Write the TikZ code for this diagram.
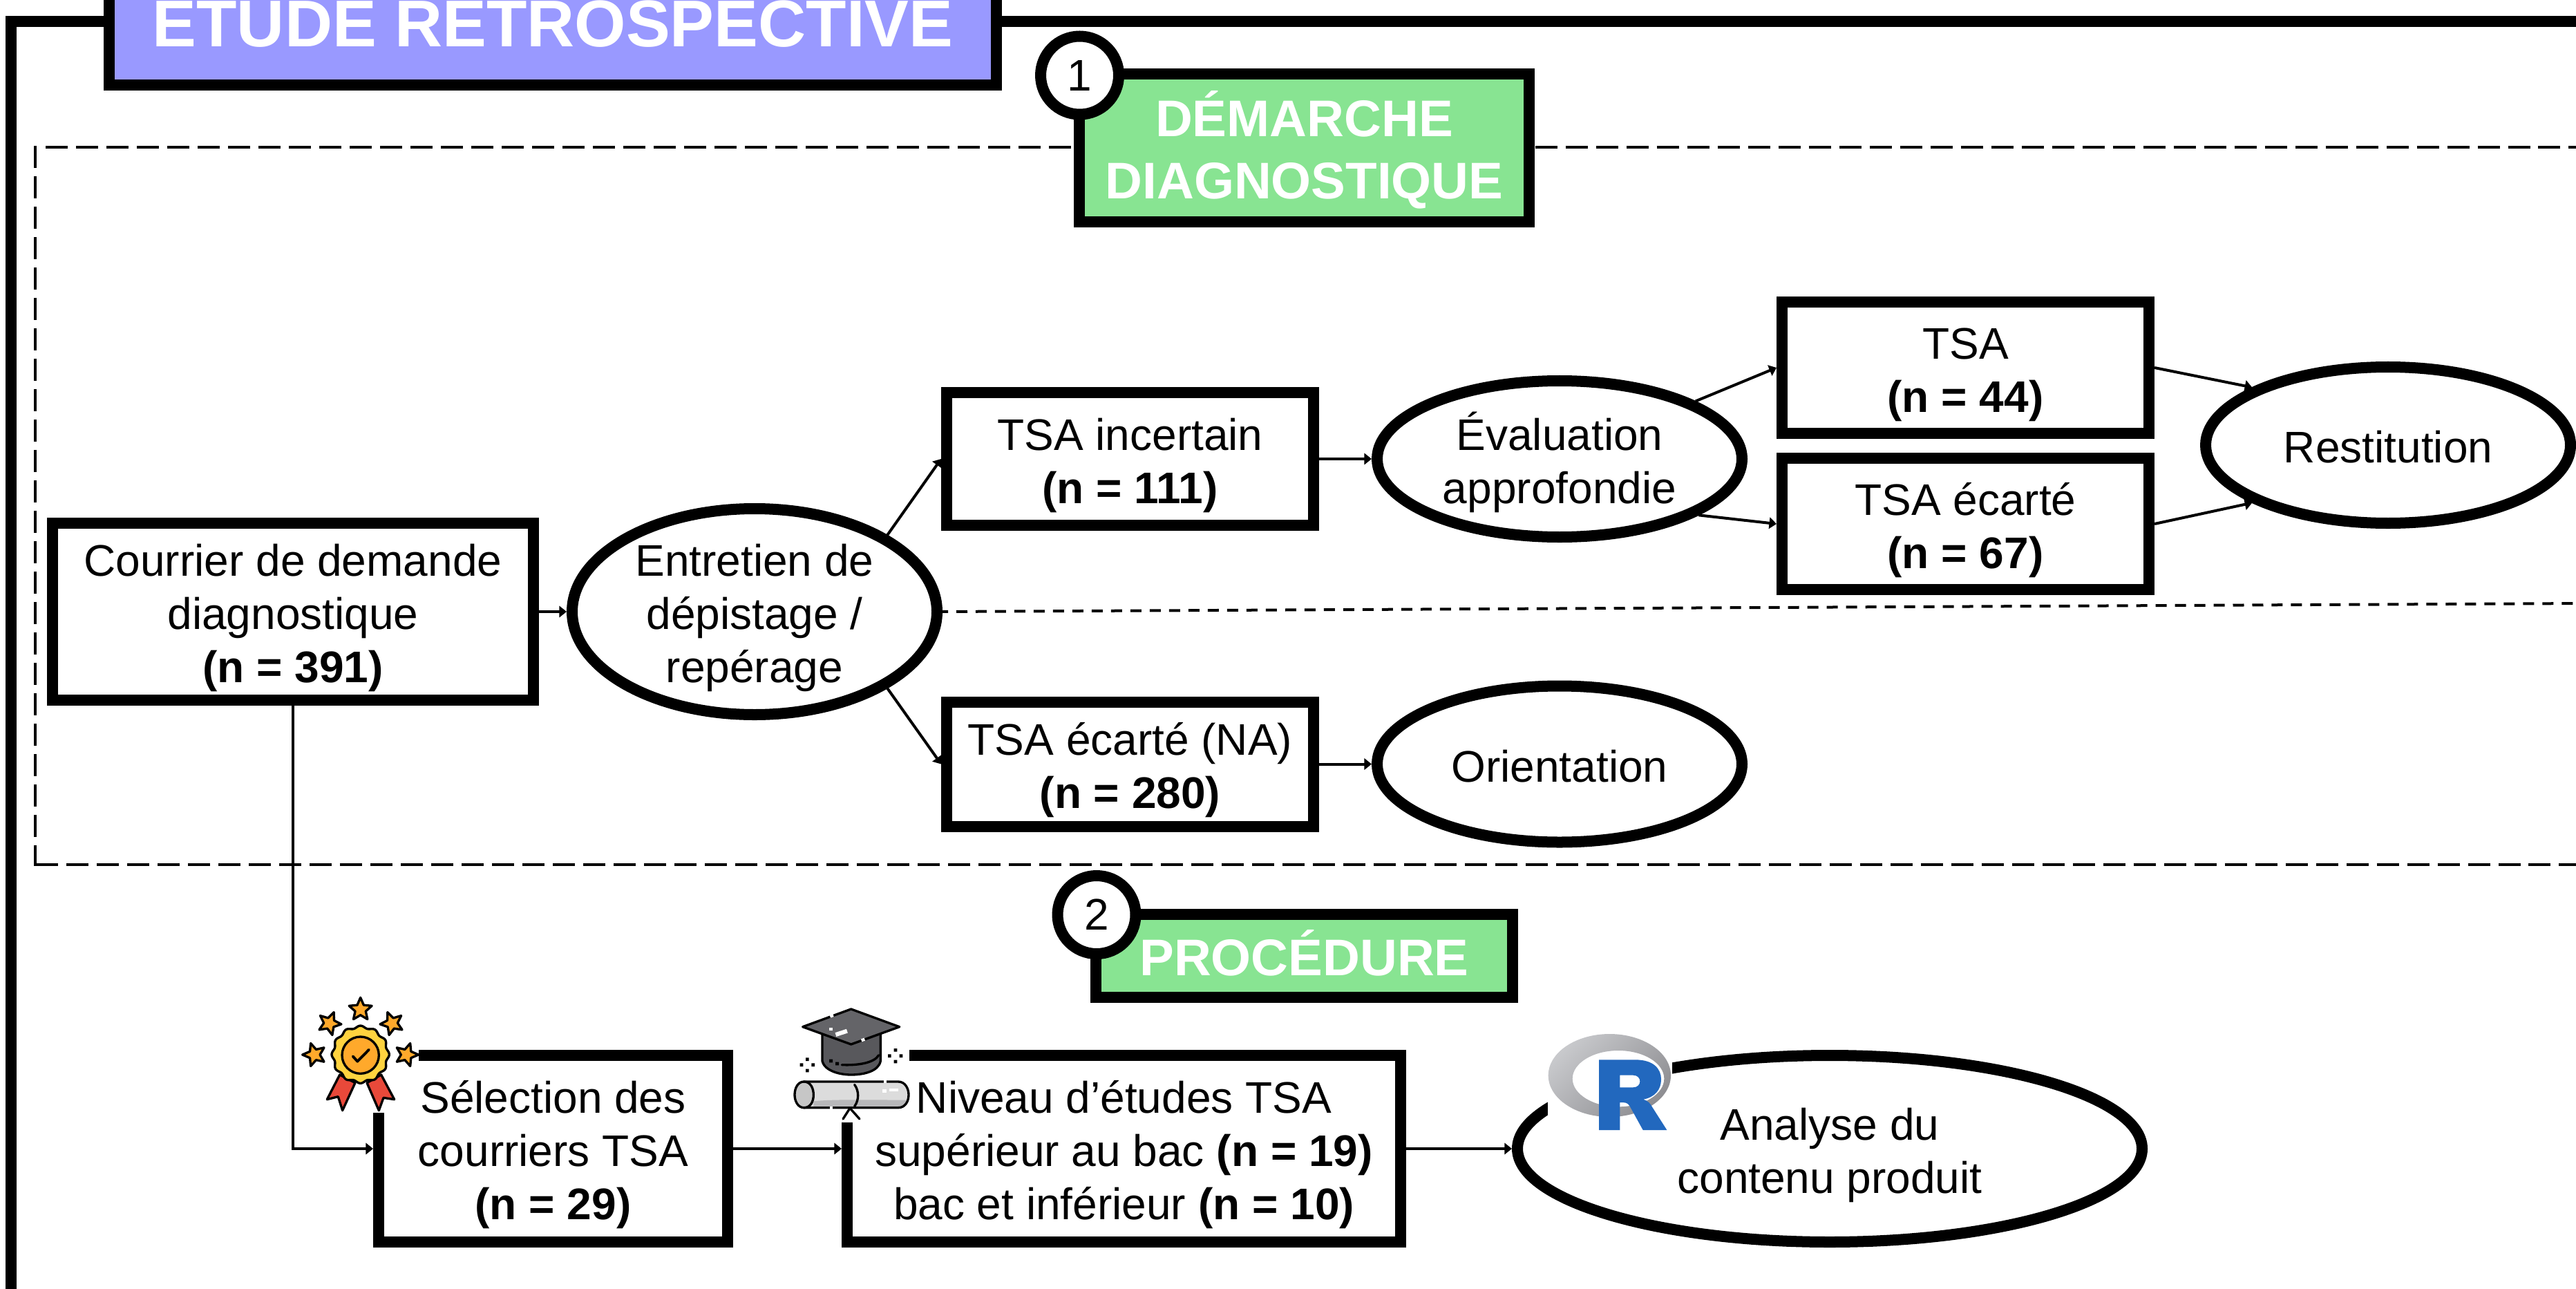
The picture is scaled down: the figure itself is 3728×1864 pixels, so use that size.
\documentclass[tikz,border=0pt]{standalone}
\usepackage{fontspec}
\setmainfont{Liberation Sans}
\usetikzlibrary{arrows.meta,shapes.geometric,calc}
\definecolor{titleblue}{HTML}{9999FF}
\definecolor{headgreen}{HTML}{88E492}
\definecolor{medalgold}{HTML}{FFD33F}
\definecolor{medalorange}{HTML}{FFA92B}
\definecolor{medalred}{HTML}{E8493A}
\definecolor{capdark}{HTML}{58585C}
\definecolor{capboard}{HTML}{646468}
\definecolor{scrollgrey}{HTML}{DCDCDC}
\definecolor{scrollshade}{HTML}{B8B8BA}
\definecolor{rblue}{HTML}{2268BE}
\definecolor{ringlight}{HTML}{C8C9CC}
\definecolor{ringdark}{HTML}{8E8E92}
\newcommand{\medalstar}[3]{\draw[fill=medalorange,line width=0.95pt,line join=round]
  plot[samples at={0,36,...,324}] ({#1+(mod(\x,72)==0?52:24)*sin(\x+#3)},{#2-(mod(\x,72)==0?52:24)*cos(\x+#3)}) -- cycle;}
% line struts: same text block height whatever the letters
\newcommand{\btop}{\rule{0pt}{18.5pt}}
\newcommand{\bbot}{\rule[-3.9pt]{0pt}{3.9pt}}
\newcommand{\htop}{\rule{0pt}{21.2pt}}
\newcommand{\hbot}{\rule[-5.2pt]{0pt}{5.2pt}}
\newcommand{\ttop}{\rule{0pt}{34pt}}
\newcommand{\tbot}{\rule[-5.6pt]{0pt}{5.6pt}}
\tikzset{
  sized/.style 2 args={minimum width=#1*0.01cm,minimum height=#2*0.01cm},
  bodyfont/.style={font=\fontsize{18.2}{21.9}\selectfont,align=center,text=black},
  stepbox/.style={draw=black,fill=white,line width=4.552pt,rectangle,inner sep=0pt,bodyfont},
  stepoval/.style={draw=black,fill=white,line width=4.552pt,ellipse,inner sep=-40pt,bodyfont},
  headbox/.style={draw=black,fill=headgreen,line width=4.552pt,rectangle,inner sep=0pt,align=center,text=white,font=\fontsize{21.2}{25.6}\selectfont\bfseries},
  titlebox/.style={draw=black,fill=titleblue,line width=4.552pt,rectangle,inner sep=0pt,align=center,text=white,font=\fontsize{27.2}{32}\selectfont\bfseries},
  numdisc/.style={draw=black,fill=white,line width=4.552pt,circle,inner sep=0pt,minimum size=113*0.01cm,font=\fontsize{18.2}{21.9}\selectfont},
  framestroke/.style={draw=black,line width=4.552pt,line cap=butt},
  zonedash/.style={draw=black,line width=1.138pt,dash pattern=on 9.1pt off 3.41pt},
  splitdash/.style={draw=black,line width=1.138pt,dash pattern=on 4.55pt off 3.41pt,dash phase=2.28pt},
  link/.style={draw=black,line width=1.138pt,-{Triangle[length=3pt,width=4.6pt]}},
  iconstroke/.style={draw=black,line width=0.95pt,line join=round,line cap=round},
}
\begin{document}
\begin{tikzpicture}[x=0.01cm,y=-0.01cm]
\useasboundingbox (0,0) rectangle (3728,1864);
\clip (0,0) rectangle (3728,1864);
% outer frame and zones
\coordinate (frameA) at (16,1950);
\coordinate (frameB) at (16,31);
\coordinate (frameC) at (3800,31);
\draw[framestroke] (frameA) -- (frameB) -- (frameC);
\coordinate (zoneTR) at (3800,213);
\coordinate (zoneTL) at (66,213);
\coordinate (zoneLT) at (51,211);
\coordinate (zoneLB) at (51,1253);
\coordinate (zoneBL) at (52,1251);
\coordinate (zoneBR) at (3800,1251);
\draw[zonedash] (zoneTL) -- (zoneTR);
\draw[zonedash] (zoneLT) -- (zoneLB);
\draw[zonedash] (zoneBL) -- (zoneBR);
\node[titlebox,sized={1284}{210}] (title) at (800,18) {\ttop ÉTUDE RÉTROSPECTIVE\tbot};
% section headers
\node[headbox,sized={651}{214}] (dem) at (1887.5,214) {\htop DÉMARCHE\\DIAGNOSTIQUE\hbot};
\node[numdisc] (one) at (1562.5,109) {1};
\node[headbox,sized={603}{120}] (proc) at (1887.5,1383) {\htop PROCÉDURE\hbot};
\node[numdisc] (two) at (1587,1323.5) {2};
% first flow
\node[stepbox,sized={696}{256}] (cour) at (424,885) {\btop Courrier de demande\\diagnostique\\\textbf{(n = 391)}\bbot};
\node[stepoval,sized={528}{298}] (ent) at (1092,885) {\btop Entretien de\\dépistage /\\repérage\bbot};
\coordinate (splitEnd) at (3740,873);
\draw[splitdash] (ent.east) -- (splitEnd);
\node[stepbox,sized={531}{192}] (inc) at (1635.5,664) {\btop TSA incertain\\\textbf{(n = 111)}\bbot};
\node[stepbox,sized={531}{180}] (na) at (1635.5,1105.5) {\btop TSA écarté (NA)\\\textbf{(n = 280)}\bbot};
\node[stepoval,sized={528}{226}] (eval) at (2257,664) {\btop Évaluation\\approfondie\bbot};
\node[stepoval,sized={528}{226}] (orient) at (2257,1105.5) {\btop Orientation\bbot};
\node[stepbox,sized={531}{190}] (tsa) at (2844.5,532) {\btop TSA\\\textbf{(n = 44)}\bbot};
\node[stepbox,sized={531}{190}] (ecart) at (2844.5,758) {\btop TSA écarté\\\textbf{(n = 67)}\bbot};
\node[stepoval,sized={528}{226}] (rest) at (3456,644) {\btop Restitution\bbot};
% second flow
\node[stepbox,sized={505}{270}] (sel) at (800.5,1662) {\btop Sélection des\\courriers TSA\\\textbf{(n = 29)}\bbot};
\node[stepbox,sized={801}{270}] (niv) at (1626.5,1662) {\btop Niveau d’études TSA\\supérieur au bac \textbf{(n = 19)}\\bac et inférieur \textbf{(n = 10)}\bbot};
\node[stepoval,sized={904}{270}] (ana) at (2648,1662) {\btop Analyse du\\contenu produit\bbot};
% connectors
\coordinate (courBend) at (424,1662);
\draw[link] (cour.east) -- (ent.west);
\draw[link] (ent.30) -- (inc.west);
\draw[link] (ent.-30) -- (na.west);
\draw[link] (inc.east) -- (eval.west);
\draw[link] (na.east) -- (orient.west);
\draw[link] (eval.23) -- (tsa.west);
\draw[link] (eval.-22) -- (ecart.west);
\draw[link] (tsa.east) -- (rest.157);
\draw[link] (ecart.east) -- (rest.203);
\draw[link] (cour.south) -- (courBend) -- (sel.west);
\draw[link] (sel.east) -- (niv.west);
\draw[link] (niv.east) -- (ana.west);
% medal icon
\fill[white] (436,1440) rectangle (606,1610);
\begin{scope}[shift={(430,1430)},scale=1/3]
  \draw[iconstroke,fill=medalred] (185,375) -- (130,482) -- (178,470) -- (197,530) -- (252,410) -- cycle;
  \draw[iconstroke,fill=medalred] (365,375) -- (422,482) -- (375,475) -- (355,530) -- (303,410) -- cycle;
  \draw[iconstroke,fill=medalgold] plot[domain=0:360,samples=145] ({275+(120+5*cos(12*\x))*cos(\x)},{287+(120+5*cos(12*\x))*sin(\x)}) -- cycle;
  \draw[iconstroke,fill=medalorange] (275,290) circle (80);
  \draw[iconstroke,line width=1.1pt] (242,295) -- (262,317) -- (312,266);
  \medalstar{275}{92}{0}
  \medalstar{140}{152}{22}
  \medalstar{412}{152}{-22}
  \medalstar{75}{288}{-18}
  \medalstar{475}{288}{18}
\end{scope}
% graduation icon
\fill[white] (1146,1454) rectangle (1316,1624);
\begin{scope}[shift={(1140,1450)},scale=1/3]
  \draw[iconstroke,fill=capdark] (150,130) -- (150,255) .. controls (160,300) and (230,315) .. (275,315) .. controls (330,315) and (395,300) .. (403,255) -- (403,130) -- cycle;
  \draw[iconstroke] (235,272) .. controls (300,275) and (375,265) .. (395,230);
  \fill[black] (180,248) rectangle (195,262) (207,260) rectangle (222,274);
  \draw[iconstroke,fill=capboard] (275,30) -- (485,107) -- (275,183) -- (65,107) -- cycle;
  \fill[white] (180,110) rectangle (195,124);
  \fill[white,rotate around={18:(233,133)}] (207,124) rectangle (259,142);
  \draw[white,line width=1.2pt] (184,62) -- (198,57);
  \draw[white,line width=1.2pt] (320,166) -- (334,161);
  \fill[black] (78,241) rectangle (92,255) (53,265) rectangle (67,279) (103,265) rectangle (117,279) (78,290) rectangle (92,304);
  \fill[black] (461,201) rectangle (475,215) (435,226) rectangle (449,240) (485,226) rectangle (499,240) (461,251) rectangle (475,265);
  \draw[iconstroke] (270,460) -- (240,507) (270,460) -- (312,507);
  \fill[scrollgrey] (70,345) -- (480,345) .. controls (510,345) and (525,375) .. (525,402) .. controls (525,430) and (510,458) .. (480,458) -- (70,458) .. controls (45,458) and (30,430) .. (30,402) .. controls (30,372) and (45,345) .. (70,345) -- cycle;
  \fill[scrollshade] (112,430) .. controls (200,420) and (420,425) .. (515,425) .. controls (510,445) and (495,453) .. (480,453) -- (112,453) -- cycle;
  \draw[iconstroke] (70,345) -- (480,345) .. controls (510,345) and (525,375) .. (525,402) .. controls (525,430) and (510,458) .. (480,458) -- (70,458);
  \draw[iconstroke,fill=scrollgrey!90!black] (70,345) .. controls (100,345) and (112,375) .. (112,402) .. controls (112,430) and (100,458) .. (70,458) .. controls (45,458) and (30,430) .. (30,402) .. controls (30,372) and (45,345) .. (70,345) -- cycle;
  \draw[iconstroke] (290,358) .. controls (310,385) and (310,425) .. (290,452);
  \fill[white] (412,378) rectangle (428,392);
  \fill[white] (442,374) rectangle (480,388);
  \draw[white,line width=1.2pt] (417,345) -- (430,345);
  \draw[white,line width=1.2pt] (183,458) -- (195,458);
\end{scope}
% R logo
\fill[white] (2240,1490) rectangle (2420,1640);
\begin{scope}[shift={(2150,1460)},scale=1/3]
  \shade[even odd rule,top color=ringlight,bottom color=ringdark,shading angle=45]
    (538,288) ellipse [x radius=266,y radius=180]
    (576,302) ellipse [x radius=199,y radius=122];
  \fill[rblue,even odd rule] (492,220) -- (650,220) .. controls (730,220) and (762,260) .. (762,305) .. controls (762,350) and (735,382) .. (685,392) .. controls (705,398) and (715,410) .. (725,428) -- (787,525) -- (683,525) -- (625,420) .. controls (615,405) and (605,405) .. (583,405) -- (583,525) -- (492,525) -- cycle
    (583,287) -- (640,287) .. controls (680,287) and (680,340) .. (640,340) -- (583,340) -- cycle;
\end{scope}
\end{tikzpicture}
\end{document}
